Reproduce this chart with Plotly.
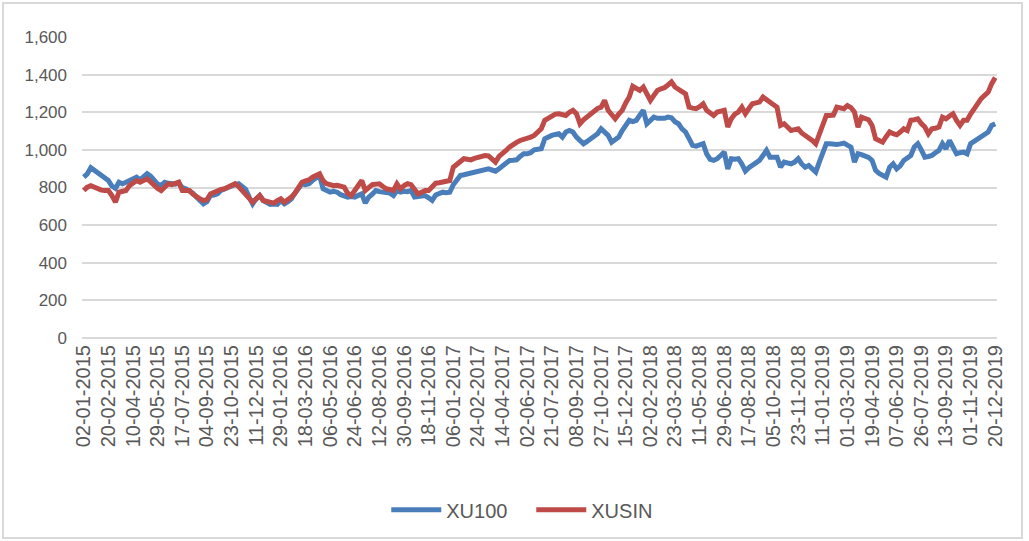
import pandas as pd
import plotly.graph_objects as go

start_date = "2015-01-02"
n_weeks = 260
dates = [d.strftime("%d-%m-%Y") for d in pd.date_range(start_date, periods=n_weeks, freq="7D")]
tick_step = 7
tick_labels = dates[::tick_step]

xu100 = [
    855, 872, 905, 892, 878, 862, 850, 837, 808, 795,
    828, 820, 828, 835, 842, 855, 840, 855, 873, 860,
    837, 818, 810, 828, 822, 820, 818, 823, 800, 793,
    784, 770, 749, 735, 713, 725, 757, 760, 766, 785,
    795, 802, 808, 815, 820, 805, 790, 749, 713, 740,
    757, 731, 720, 710, 712, 710, 731, 713, 725, 740,
    770, 795, 820, 815, 820, 837, 848, 864, 793, 780,
    775, 780, 775, 762, 755, 749, 752, 749, 758, 766,
    717, 749, 765, 784, 778, 775, 775, 770, 757, 784,
    775, 780, 778, 784, 749, 752, 760, 757, 745, 731,
    760, 770, 775, 772, 775, 815, 840, 864, 868, 873,
    878, 882, 885, 891, 894, 899, 893, 887, 900, 917,
    930, 944, 945, 947, 965, 979, 979, 985, 1000, 1003,
    1006, 1059, 1070, 1077, 1082, 1086, 1068, 1095, 1103, 1095,
    1068, 1050, 1032, 1045, 1059, 1075, 1086, 1112, 1090, 1077,
    1041, 1055, 1068, 1103, 1130, 1157, 1150, 1157, 1185, 1210,
    1139, 1160, 1174, 1168, 1165, 1168, 1174, 1170, 1150, 1139,
    1112, 1095, 1060, 1024, 1020, 1024, 1033, 979, 950, 944,
    953, 970, 988, 899, 953, 950, 953, 925, 887, 905,
    917, 930, 944, 970, 997, 961, 958, 961, 908, 935,
    930, 926, 935, 953, 925, 908, 917, 895, 882, 935,
    990, 1033, 1033, 1030, 1029, 1032, 1036, 1025, 1015, 935,
    980, 975, 970, 960, 944, 891, 875, 864, 855, 908,
    926, 899, 915, 944, 960, 970, 1015, 1033, 1000, 961,
    965, 970, 985, 997, 1033, 1006, 1050, 1015, 979, 985,
    988, 979, 1033, 1045, 1059, 1065, 1080, 1095, 1130, 1139,
]

xusin = [
    784, 802, 810, 800, 793, 786, 784, 784, 757, 722,
    775, 780, 784, 810, 820, 837, 828, 835, 846, 830,
    810, 795, 784, 805, 820, 815, 822, 828, 784, 786,
    784, 765, 749, 740, 731, 735, 766, 775, 780, 790,
    793, 802, 810, 820, 805, 784, 765, 749, 722, 740,
    757, 731, 725, 720, 717, 730, 740, 722, 735, 749,
    770, 800, 828, 835, 840, 855, 865, 873, 837, 820,
    815, 810, 812, 810, 802, 770, 757, 784, 810, 837,
    784, 800, 815, 818, 820, 805, 793, 790, 784, 820,
    793, 810, 820, 815, 790, 766, 775, 784, 784, 800,
    823, 825, 828, 832, 837, 908, 925, 944, 953, 950,
    947, 955, 961, 965, 970, 968, 955, 935, 965, 985,
    997, 1015, 1030, 1040, 1050, 1055, 1059, 1068, 1077, 1095,
    1112, 1157, 1170, 1183, 1190, 1192, 1188, 1183, 1200, 1210,
    1192, 1139, 1160, 1174, 1192, 1210, 1220, 1227, 1263, 1210,
    1185, 1165, 1190, 1210, 1250, 1281, 1338, 1325, 1316, 1334,
    1300, 1263, 1290, 1316, 1325, 1330, 1345, 1361, 1334, 1325,
    1310, 1298, 1227, 1222, 1219, 1230, 1245, 1210, 1195, 1183,
    1201, 1205, 1210, 1121, 1165, 1190, 1201, 1227, 1192, 1220,
    1245, 1250, 1254, 1281, 1265, 1254, 1240, 1227, 1130, 1139,
    1120, 1103, 1108, 1112, 1090, 1077, 1068, 1050, 1032, 1086,
    1140, 1183, 1183, 1185, 1227, 1222, 1219, 1236, 1225, 1201,
    1121, 1174, 1165, 1160, 1130, 1059, 1050, 1041, 1070, 1095,
    1086, 1080, 1095, 1112, 1103, 1157, 1160, 1165, 1140, 1121,
    1086, 1112, 1115, 1121, 1174, 1165, 1180, 1192, 1157, 1130,
    1157, 1157, 1190, 1219, 1254, 1272, 1290, 1307, 1352, 1384,
]

y_ticks = [0, 200, 400, 600, 800, 1000, 1200, 1400, 1600]

FONT = "Liberation Sans, Arial, sans-serif"
GRAY = "#595959"

fig = go.Figure()
fig.add_trace(go.Scatter(x=dates, y=xu100, name="XU100", mode="lines",
                         line=dict(color="#4A7EBB", width=5)))
fig.add_trace(go.Scatter(x=dates, y=xusin, name="XUSIN", mode="lines",
                         line=dict(color="#BE4B48", width=5)))

fig.update_layout(
    width=1029, height=541,
    margin=dict(l=82, r=32, t=37, b=203, autoexpand=False),
    paper_bgcolor="white", plot_bgcolor="white",
    font=dict(family=FONT, color=GRAY),
    showlegend=True,
    legend=dict(orientation="h", x=0.491, xanchor="center", y=-0.571, yanchor="middle",
                font=dict(size=20, color=GRAY, family=FONT), itemwidth=50,
                entrywidth=80, entrywidthmode="pixels"),
    xaxis=dict(type="category", tickmode="array", tickvals=tick_labels, ticktext=tick_labels,
               tickangle=-90, tickfont=dict(size=20, color=GRAY, family=FONT),
               showgrid=False, showline=False, ticks="", zeroline=False,
               ticklabelstandoff=2, range=[-0.5, n_weeks - 0.5]),
    yaxis=dict(range=[0, 1600], tickmode="array", tickvals=y_ticks, tickformat=",",
               tickfont=dict(size=17, color=GRAY, family=FONT),
               showgrid=True, gridcolor="#D9D9D9", gridwidth=1.5,
               zeroline=True, zerolinecolor="#D9D9D9", zerolinewidth=1.5,
               showline=False, ticks="", ticklabelstandoff=14),
    shapes=[dict(type="rect", xref="paper", yref="paper",
                 x0=-79 / 915, x1=(1022 - 82) / 915, y0=-200 / 301, y1=1 + 34 / 301,
                 line=dict(color="#D9D9D9", width=2), fillcolor="rgba(0,0,0,0)", layer="below")],
)

fig.write_html("out.html", config={"displayModeBar": False})

# remove the default 8px page margin so the figure sits at the window origin
with open("out.html", "r", encoding="utf-8") as f:
    html = f.read()
html = html.replace("<head>", "<head><style>html,body{margin:0;padding:0;overflow:hidden;}</style>", 1)
with open("out.html", "w", encoding="utf-8") as f:
    f.write(html)
